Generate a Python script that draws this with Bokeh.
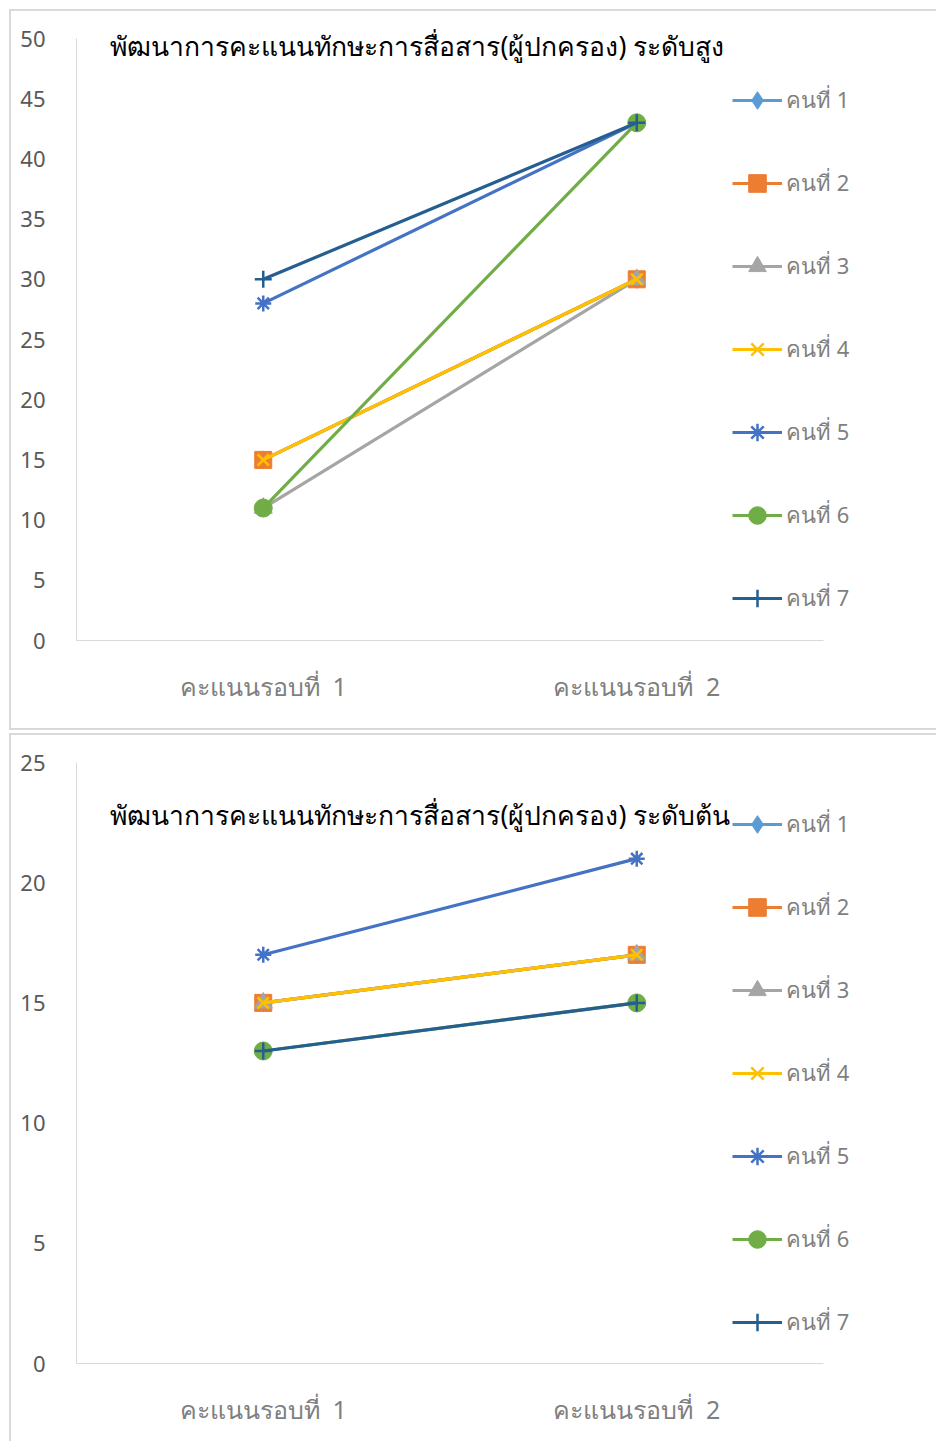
from bokeh.plotting import figure
from bokeh.models import Range1d, Legend, LegendItem, Label, FixedTicker
from bokeh.layouts import column
from bokeh.embed import file_html
from bokeh.resources import INLINE

categories = ["คะแนนรอบที่\u00a0\u00a01", "คะแนนรอบที่\u00a0\u00a02"]
people = ["คนที่ 1", "คนที่ 2", "คนที่ 3", "คนที่ 4", "คนที่ 5", "คนที่ 6", "คนที่ 7"]
colors = ["#5B9BD5", "#ED7D31", "#A5A5A5", "#FFC000", "#4472C4", "#70AD47", "#255E91"]
markers = ["diamond", "square", "triangle", "x", "asterisk", "circle", "cross"]

title_prefix = "พัฒนาการคะแนนทักษะการสื่อสาร(ผู้ปกครอง) "

high_title = title_prefix + "ระดับสูง"
high_round1 = [15, 15, 11, 15, 28, 11, 30]
high_round2 = [30, 30, 30, 30, 43, 43, 43]
high_ticks = [0, 5, 10, 15, 20, 25, 30, 35, 40, 45, 50]

low_title = title_prefix + "ระดับต้น"
low_round1 = [15, 15, 15, 15, 17, 13, 13]
low_round2 = [17, 17, 17, 17, 21, 15, 15]
low_ticks = [0, 5, 10, 15, 20, 25]

marker_sizes = [18, 17, 18, 16, 16, 18, 17]
marker_widths = [1, 1, 1, 2.5, 2.5, 1, 2.5]

GRAY = "#595959"
XGRAY = "#7f7f7f"
AXIS = "#d9d9d9"
FONT = "Noto Sans"

FIG_W = 927
LEFT = 65
# category slot = 373.5 px; frame spans FIG_W - LEFT px
X_END = len(categories) * (FIG_W - LEFT) / 747.0


def make_chart(title, r1, r2, ticks, height, top, frame_h, legend_y, title_y, styles):
    # frame reaches the canvas top so the title's upper marks are not clipped;
    # the y axis line is bounded to the tick range
    y_end = ticks[-1] + (ticks[-1] - ticks[0]) * top / frame_h
    p = figure(x_range=Range1d(0, X_END), y_range=Range1d(ticks[0], y_end),
               width=FIG_W, height=height, output_backend="svg", toolbar_location=None,
               min_border_left=LEFT, min_border_right=0, min_border_top=0,
               min_border_bottom=height - top - frame_h)
    p.styles = styles
    p.outline_line_color = None
    p.xgrid.visible = False
    p.ygrid.visible = False

    p.yaxis.bounds = (ticks[0], ticks[-1])
    p.yaxis.ticker = FixedTicker(ticks=ticks)
    p.yaxis.axis_line_color = AXIS
    p.yaxis.major_tick_line_color = None
    p.yaxis.minor_tick_line_color = None
    p.yaxis.major_label_text_color = GRAY
    p.yaxis.major_label_text_font_size = "22px"
    p.yaxis.major_label_text_font = FONT
    p.yaxis.major_label_standoff = 25

    xpos = [i + 0.5 for i in range(len(categories))]
    p.xaxis.bounds = (0, len(categories))
    p.xaxis.ticker = FixedTicker(ticks=xpos)
    p.xaxis.major_label_overrides = {x: c for x, c in zip(xpos, categories)}
    p.xaxis.axis_line_color = AXIS
    p.xaxis.major_tick_line_color = None
    p.xaxis.minor_tick_line_color = None
    p.xaxis.major_label_text_color = XGRAY
    p.xaxis.major_label_text_font_size = "25px"
    p.xaxis.major_label_text_font = FONT
    p.xaxis.major_label_standoff = 22

    items = []
    for i, name in enumerate(people):
        ys = [r1[i], r2[i]]
        ln = p.line(x=xpos, y=ys, line_color=colors[i], line_width=3.2)
        sc = p.scatter(x=xpos, y=ys, marker=markers[i], size=marker_sizes[i],
                       fill_color=colors[i], line_color=colors[i], line_width=marker_widths[i])
        items.append(LegendItem(label=name, renderers=[ln, sc]))

    legend = Legend(items=items, location=(656, legend_y), orientation="vertical",
                    spacing=39, glyph_width=50, glyph_height=44, label_height=20,
                    label_standoff=4, padding=0, margin=0, border_line_color=None,
                    background_fill_alpha=0, label_text_font_size="22px",
                    label_text_color=XGRAY, label_text_font=FONT)
    p.add_layout(legend)

    p.add_layout(Label(x=0.091, y=title_y, text=title, text_font_size="26.5px",
                       text_color="black", text_font=FONT, text_baseline="middle",
                       text_align="left"))
    return p


border = "2px solid #d9d9d9"
top_chart = make_chart(high_title, high_round1, high_round2, high_ticks, 721, 27, 602, 20, 49.4,
                       {"border-top": border, "border-left": border, "border-bottom": border})
bottom_chart = make_chart(low_title, low_round1, low_round2, low_ticks, 708, 27, 601, 19, 22.8,
                          {"border-top": border, "border-left": border})

layout = column(top_chart, bottom_chart, spacing=3, margin=(9, 0, 0, 9))
open("out.html", "w").write(file_html(layout, INLINE))
